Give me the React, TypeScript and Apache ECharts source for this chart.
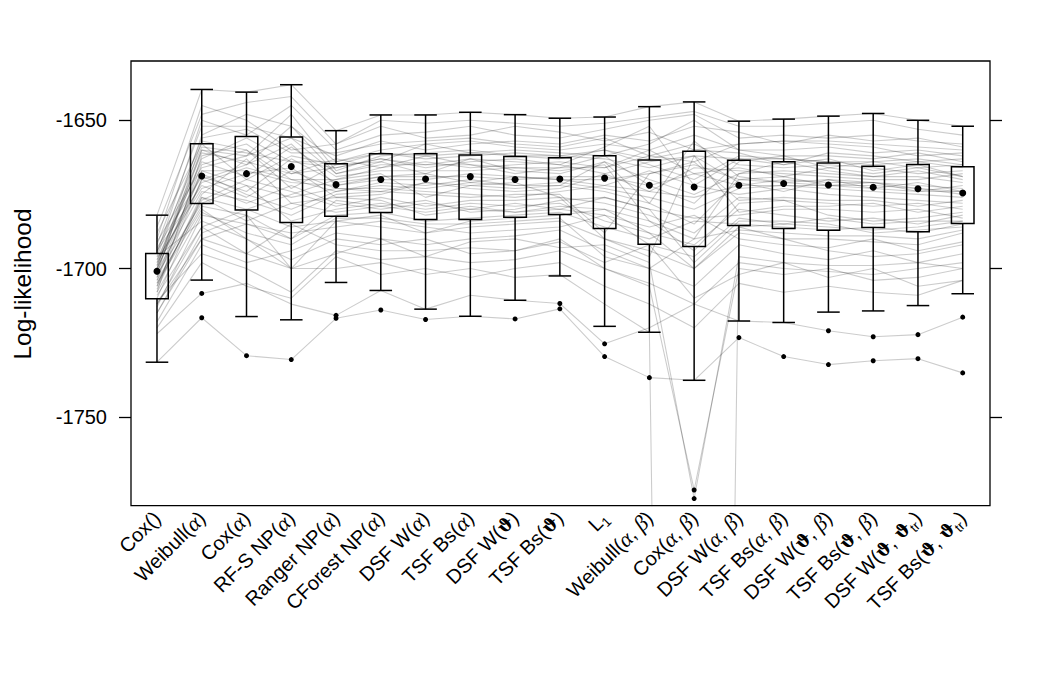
import React, { useEffect, useRef } from 'react';
import * as echarts from 'echarts';

// Model labels (Greek letters and subscripts are turned into rich-text tokens)
const categories = [
  'Cox()', 'Weibull(α)', 'Cox(α)', 'RF-S NP(α)', 'Ranger NP(α)', 'CForest NP(α)',
  'DSF W(α)', 'TSF Bs(α)', 'DSF W(ϑ)', 'TSF Bs(ϑ)', 'L₁', 'Weibull(α, β)', 'Cox(α, β)',
  'DSF W(α, β)', 'TSF Bs(α, β)', 'DSF W(ϑ, β)', 'TSF Bs(ϑ, β)', 'DSF W(ϑ, ϑₜᵣ)', 'TSF Bs(ϑ, ϑₜᵣ)',
];

// Box summaries per model
const whiskerHigh = [-1682.0, -1639.6, -1640.5, -1638.0, -1653.5, -1648.2, -1648.2, -1647.3, -1648.1, -1649.3, -1648.9, -1645.4, -1643.8, -1650.3, -1649.6, -1648.6, -1647.7, -1650.0, -1652.0];
const upperQuartile = [-1694.9, -1657.9, -1655.5, -1655.6, -1664.7, -1661.3, -1661.3, -1661.7, -1662.2, -1662.6, -1662.0, -1663.4, -1660.4, -1663.5, -1664.0, -1664.4, -1665.5, -1664.9, -1665.7];
const medians = [-1700.9, -1668.8, -1668.0, -1665.6, -1671.7, -1670.0, -1669.8, -1669.0, -1670.0, -1669.8, -1669.5, -1671.9, -1672.5, -1671.9, -1671.3, -1671.8, -1672.6, -1673.1, -1674.5];
const lowerQuartile = [-1710.2, -1678.1, -1680.3, -1684.5, -1682.4, -1681.1, -1683.5, -1683.5, -1682.7, -1681.8, -1686.5, -1691.8, -1692.6, -1685.5, -1686.5, -1687.1, -1686.2, -1687.6, -1684.8];
const whiskerLow = [-1731.6, -1703.9, -1716.2, -1717.3, -1704.7, -1707.4, -1713.7, -1716.1, -1710.7, -1702.5, -1719.5, -1721.5, -1737.7, -1717.7, -1718.2, -1714.7, -1714.3, -1712.5, -1708.5];

// Outlying points: [model index, log-likelihood]
const outliers: [number, number][] = [
  [1, -1708.4], [1, -1716.6], [2, -1729.4], [3, -1730.7], [4, -1715.8], [4, -1716.8],
  [5, -1714.0], [6, -1717.2], [8, -1717.0], [9, -1711.8], [9, -1713.6], [10, -1725.4],
  [10, -1729.7], [11, -1736.8], [12, -1774.7], [12, -1777.6], [13, -1723.3], [14, -1729.7],
  [15, -1721.0], [15, -1732.4], [16, -1723.0], [16, -1731.1], [17, -1722.3], [17, -1730.4],
  [18, -1716.4], [18, -1735.2],
];

// Per-replicate log-likelihoods across the 19 models
const replicates: number[][] = [
  [-1682, -1639.6, -1640.5, -1638, -1653.5, -1648.2, -1648.2, -1647.3, -1648.1, -1649.3, -1648.9, -1645.4, -1643.8, -1650.3, -1649.6, -1648.6, -1647.7, -1650, -1652],
  [-1731.6, -1716.6, -1729.4, -1730.7, -1716.8, -1714, -1717.2, -1716.1, -1717, -1713.6, -1729.7, -1736.8, -1737.7, -1723.3, -1729.7, -1732.4, -1731.1, -1730.4, -1735.2],
  [-1722, -1708.4, -1705, -1712, -1715.8, -1707.4, -1713.7, -1709, -1710.7, -1711.8, -1725.4, -1720, -1712, -1717.7, -1718.2, -1721, -1723, -1722.3, -1716.4],
  [-1712, -1690, -1695, -1700, -1700, -1698, -1702, -1700, -1703, -1702, -1712, -1721.5, -2760, -1686, -1690, -1694, -1696, -1695, -1692],
  [-1705, -1680, -1690, -1697, -1690, -1692, -1690, -1695, -1694, -1690, -1700, -1706, -1774.7, -1700, -1702, -1700, -1704, -1703, -1700],
  [-1715, -1688, -1682, -1700, -1695, -1690, -1696, -1691, -1690, -1693, -1692, -1698, -1777.6, -1696, -1698, -1703, -1700, -1706, -1704],
  [-1695, -1650, -1655, -1645, -1660, -1655, -1654, -1652, -1655, -1656, -1653, -1650, -1648, -1656, -1655, -1656, -1655, -1657, -1658],
  [-1700, -1655, -1648, -1652, -1664, -1660, -1658, -1657, -1659, -1660, -1658, -1660, -1655, -1660, -1660, -1659, -1661, -1660, -1662],
  [-1690, -1645, -1650, -1660, -1658, -1652, -1656, -1655, -1652, -1654, -1657, -1654, -1660, -1658, -1657, -1658, -1659, -1662, -1661],
  [-1698, -1660, -1662, -1648, -1667, -1662, -1661, -1660, -1662, -1663, -1660, -1665, -1670, -1662, -1663, -1664, -1665, -1664, -1666],
  [-1703, -1665, -1660, -1670, -1670, -1666, -1664, -1666, -1665, -1664, -1666, -1662, -1658, -1665, -1666, -1665, -1666, -1668, -1667],
  [-1688, -1658, -1670, -1662, -1665, -1664, -1668, -1663, -1667, -1668, -1664, -1670, -1675, -1668, -1664, -1667, -1669, -1667, -1670],
  [-1706, -1670, -1665, -1658, -1672, -1670, -1670, -1668, -1669, -1670, -1670, -1668, -1665, -1670, -1671, -1672, -1672, -1673, -1674],
  [-1700, -1668, -1675, -1680, -1674, -1672, -1673, -1671, -1672, -1671, -1673, -1676, -1680, -1673, -1672, -1673, -1674, -1675, -1676],
  [-1697, -1673, -1668, -1666, -1676, -1675, -1671, -1673, -1674, -1673, -1668, -1664, -1662, -1671, -1674, -1670, -1673, -1674, -1672],
  [-1710, -1676, -1680, -1675, -1670, -1668, -1676, -1672, -1671, -1676, -1678, -1682, -1688, -1676, -1677, -1678, -1679, -1678, -1680],
  [-1708, -1662, -1658, -1668, -1663, -1666, -1662, -1665, -1668, -1666, -1662, -1672, -1678, -1664, -1662, -1666, -1664, -1666, -1665],
  [-1702, -1678, -1672, -1684, -1680, -1678, -1680, -1678, -1679, -1678, -1684, -1688, -1692, -1680, -1682, -1684, -1683, -1685, -1682],
  [-1713, -1682, -1685, -1690, -1682, -1681, -1684, -1683, -1682, -1681, -1686, -1690, -1684, -1685, -1686, -1687, -1686, -1688, -1685],
  [-1694, -1672, -1678, -1672, -1678, -1680, -1678, -1680, -1678, -1680, -1676, -1680, -1683, -1682, -1680, -1680, -1681, -1680, -1683],
  [-1718, -1692, -1698, -1694, -1688, -1690, -1692, -1690, -1689, -1687, -1694, -1700, -1706, -1692, -1695, -1697, -1694, -1698, -1695],
  [-1720, -1698, -1706, -1710, -1696, -1702, -1700, -1703, -1700, -1698, -1706, -1712, -1720, -1705, -1708, -1706, -1708, -1709, -1704],
  [-1686, -1648, -1644, -1642, -1658, -1650, -1651, -1650, -1651, -1652, -1651, -1649, -1647, -1652, -1652, -1651, -1650, -1653, -1655],
  [-1692, -1652, -1652, -1656, -1662, -1657, -1660, -1658, -1657, -1658, -1655, -1657, -1652, -1654, -1658, -1655, -1657, -1656, -1659],
  [-1699, -1663, -1656, -1664, -1666, -1663, -1666, -1664, -1663, -1665, -1668, -1674, -1666, -1667, -1668, -1669, -1670, -1670, -1668],
  [-1704, -1667, -1672, -1676, -1673, -1673, -1674, -1675, -1676, -1674, -1672, -1667, -1672, -1675, -1673, -1675, -1676, -1677, -1678],
  [-1696, -1684, -1690, -1700, -1684, -1686, -1688, -1686, -1685, -1684, -1690, -1694, -1700, -1688, -1690, -1690, -1691, -1692, -1688],
  [-1711, -1695, -1700, -1708, -1694, -1697, -1696, -1698, -1697, -1694, -1700, -1705, -1712, -1698, -1700, -1701, -1702, -1700, -1698],
  [-1701, -1660, -1665, -1652, -1668, -1664, -1658, -1661, -1660, -1661, -1662, -1658, -1650, -1660, -1662, -1662, -1663, -1661, -1664],
  [-1707, -1675, -1663, -1678, -1676, -1677, -1682, -1680, -1681, -1679, -1680, -1684, -1694, -1678, -1677, -1682, -1684, -1683, -1681],
  [-1693, -1669, -1674, -1663, -1671, -1669, -1669, -1669, -1670, -1669, -1669, -1672, -1668, -1672, -1670, -1671, -1671, -1672, -1673],
  [-1715, -1690, -1685, -1688, -1686, -1684, -1686, -1688, -1687, -1686, -1682, -1686, -1682, -1690, -1692, -1693, -1690, -1694, -1691],
  [-1709, -1686, -1695, -1685, -1692, -1694, -1694, -1693, -1694, -1691, -1698, -1692, -1710, -1702, -1698, -1699, -1699, -1698, -1700],
  [-1702, -1657, -1660, -1673, -1665, -1661, -1663, -1662, -1661, -1662, -1660, -1663, -1660, -1661, -1665, -1661, -1662, -1664, -1663],
  [-1698, -1671, -1666, -1670, -1674, -1671, -1672, -1670, -1672, -1672, -1674, -1678, -1685, -1670, -1669, -1672, -1673, -1671, -1674],
  [-1704, -1679, -1682, -1690, -1677, -1679, -1677, -1681, -1680, -1677, -1676, -1680, -1698, -1684, -1684, -1685, -1688, -1687, -1686],
  [-1697, -1664, -1669, -1659, -1669, -1667, -1667, -1667, -1666, -1667, -1665, -1684, -1690, -1668, -1667, -1668, -1669, -1669, -1671],
  [-1701, -1674, -1677, -1682, -1675, -1674, -1675, -1676, -1675, -1675, -1688, -1668, -1664, -1677, -1676, -1677, -1677, -1679, -1677],
  [-1699, -1661, -1664, -1668, -1666, -1663, -1665, -1663, -1664, -1665, -1659, -1652, -1672, -1663, -1665, -1663, -1667, -1665, -1669],
  [-1705, -1677, -1670, -1674, -1679, -1676, -1679, -1677, -1677, -1676, -1690, -1696, -1662, -1681, -1679, -1679, -1678, -1681, -1679],
  [-1691, -1666, -1662, -1656, -1668, -1665, -1665, -1665, -1666, -1666, -1666, -1660, -1668, -1666, -1669, -1666, -1668, -1666, -1669],
  [-1708, -1681, -1688, -1692, -1683, -1683, -1685, -1685, -1684, -1683, -1696, -1700, -1690, -1687, -1688, -1689, -1689, -1690, -1687],
  [-1696, -1656, -1653, -1661, -1661, -1658, -1657, -1656, -1658, -1659, -1656, -1662, -1664, -1658, -1657, -1657, -1658, -1659, -1660],
  [-1703, -1670, -1676, -1667, -1673, -1674, -1671, -1672, -1673, -1672, -1664, -1678, -1657, -1669, -1671, -1670, -1671, -1673, -1675],
  [-1712, -1686, -1680, -1686, -1684, -1682, -1688, -1684, -1683, -1682, -1680, -1688, -1700, -1686, -1685, -1686, -1687, -1686, -1684],
  [-1700, -1667, -1667, -1671, -1672, -1669, -1668, -1671, -1669, -1670, -1672, -1674, -1676, -1672, -1672, -1672, -1671, -1674, -1674],
  [-1694, -1659, -1661, -1664, -1664, -1661, -1662, -1661, -1662, -1662, -1663, -1666, -1662, -1663, -1663, -1664, -1664, -1663, -1665],
  [-1706, -1676, -1684, -1678, -1681, -1679, -1681, -1679, -1681, -1680, -1682, -1692, -1696, -1683, -1685, -1683, -1685, -1684, -1684],
];

const yTicks = [-1750, -1700, -1650];

const SANS = '"Liberation Sans", Arial, Helvetica, sans-serif';

const toRich = (s: string) =>
  s
    .replace(/([αβ])/g, '{g|$1}')
    .replace(/ϑ/g, '{t|ϑ}')
    .replace(/ₜᵣ/g, '{s|tr}')
    .replace(/₁/g, '{s|1}');

export default function App() {
  const ref = useRef<HTMLDivElement>(null);

  useEffect(() => {
    if (!ref.current) return;
    const chart = echarts.init(ref.current, null, { renderer: 'svg' });

    const boxData = categories.map((_, i) => [i, whiskerLow[i], lowerQuartile[i], upperQuartile[i], whiskerHigh[i]]);
    const stroke = '#000';
    const lw = 1.5;

    const lineSeries = replicates.map((row, k) => ({
      type: 'line',
      name: 'rep' + k,
      data: row,
      symbol: 'none',
      silent: true,
      clip: true,
      z: 1,
      lineStyle: { color: 'rgba(0,0,0,0.2)', width: 1.1 },
    }));

    chart.setOption({
      animation: false,
      grid: { left: 134.6, right: 64.9, top: 61, bottom: 169.3, containLabel: false },
      xAxis: {
        type: 'category',
        data: categories,
        boundaryGap: true,
        axisLine: { show: false },
        axisTick: { show: false },
        splitLine: { show: false },
        axisLabel: {
          interval: 0,
          rotate: 45,
          margin: 9,
          color: '#000',
          fontFamily: SANS,
          fontSize: 20,
          lineHeight: 27,
          formatter: (v: string) => toRich(v),
          rich: {
            g: { fontFamily: '"Liberation Serif", "DejaVu Serif", serif', fontStyle: 'italic', fontSize: 22, lineHeight: 27, color: '#000' },
            t: { fontFamily: '"DejaVu Serif", serif', fontWeight: 'bold', fontSize: 18, lineHeight: 27, color: '#000' },
            s: { fontFamily: SANS, fontSize: 13.5, lineHeight: 27, verticalAlign: 'bottom', color: '#000' },
          },
        },
      },
      yAxis: [
        {
          type: 'value',
          min: -1780,
          max: -1630,
          position: 'left',
          offset: 3.6,
          splitLine: { show: false },
          axisLine: { show: false },
          axisTick: { show: true, length: 12, lineStyle: { color: '#000', width: 1.3 }, customValues: yTicks },
          axisLabel: {
            color: '#000',
            fontFamily: SANS,
            fontSize: 20,
            margin: 24,
            customValues: yTicks,
            formatter: (v: number) => String(v),
          },
        },
        {
          type: 'value',
          min: -1780,
          max: -1630,
          position: 'right',
          offset: 4.9,
          splitLine: { show: false },
          axisLine: { show: false },
          axisTick: { show: true, length: 12, lineStyle: { color: '#000', width: 1.3 }, customValues: yTicks },
          axisLabel: { show: false },
        },
      ],
      graphic: [
        {
          type: 'rect',
          shape: { x: 131, y: 61, width: 859, height: 444.7 },
          style: { fill: 'none', stroke: '#000', lineWidth: 1.3 },
          z: 100,
          silent: true,
        },
        {
          type: 'text',
          x: 22,
          y: 284,
          rotation: Math.PI / 2,
          style: {
            text: 'Log-likelihood',
            fill: '#000',
            font: '24.5px ' + SANS,
            align: 'center',
            verticalAlign: 'middle',
          },
          z: 100,
          silent: true,
        },
      ],
      series: [
        ...lineSeries,
        {
          type: 'custom',
          name: 'boxes',
          data: boxData,
          encode: { x: 0, y: [1, 2, 3, 4] },
          z: 5,
          silent: true,
          renderItem: (_params: any, api: any) => {
            const x = api.value(0);
            const lo = api.coord([x, api.value(1)]);
            const qa = api.coord([x, api.value(2)]);
            const qb = api.coord([x, api.value(3)]);
            const hi = api.coord([x, api.value(4)]);
            const half = api.size([1, 0])[0] * 0.252;
            const st = { stroke, lineWidth: lw, fill: 'none' };
            return {
              type: 'group',
              children: [
                { type: 'line', shape: { x1: lo[0], y1: lo[1], x2: qa[0], y2: qa[1] }, style: st },
                { type: 'line', shape: { x1: hi[0], y1: hi[1], x2: qb[0], y2: qb[1] }, style: st },
                { type: 'line', shape: { x1: lo[0] - half, y1: lo[1], x2: lo[0] + half, y2: lo[1] }, style: st },
                { type: 'line', shape: { x1: hi[0] - half, y1: hi[1], x2: hi[0] + half, y2: hi[1] }, style: st },
                { type: 'rect', shape: { x: qb[0] - half, y: qb[1], width: 2 * half, height: qa[1] - qb[1] }, style: st },
              ],
            };
          },
        },
        {
          type: 'scatter',
          name: 'median',
          data: medians,
          symbol: 'circle',
          symbolSize: 7,
          itemStyle: { color: '#000', opacity: 1 },
          z: 10,
          silent: true,
        },
        {
          type: 'scatter',
          name: 'outliers',
          data: outliers,
          symbol: 'circle',
          symbolSize: 5,
          itemStyle: { color: '#000', opacity: 1 },
          z: 10,
          silent: true,
        },
      ],
    });

    return () => chart.dispose();
  }, []);

  return (
    <div
      ref={ref}
      style={{ position: 'fixed', left: 0, top: 0, width: 1050, height: 675, background: '#fff' }}
    />
  );
}
